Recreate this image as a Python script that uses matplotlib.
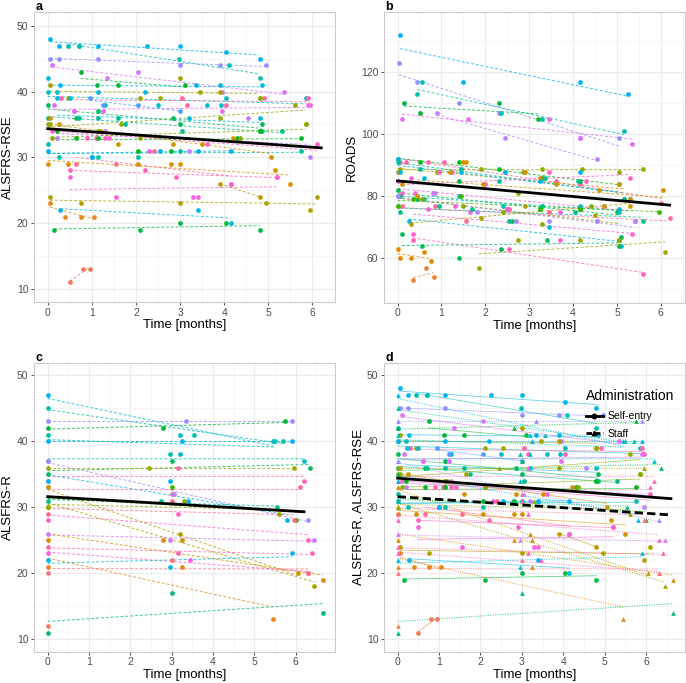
import numpy as np
import matplotlib.pyplot as plt
from matplotlib.lines import Line2D
from matplotlib.ticker import MultipleLocator

plt.rcParams['font.family'] = ['Liberation Sans', 'DejaVu Sans']

# ---- data: panel a (ALSFRS-RSE, self-entry), one row per patient ----
# hue position of each patient in the ggplot hue palette (0..1)
a_hue = [0.58, 0.47, 0.70, 0.78, 0.33, 0.20, 0.56, 0.50, 0.92, 0.55,
         0.36, 0.42, 0.22, 0.10, 0.90, 0.18, 0.57, 0.06, 0.34, 0.02,
         0.88, 0.32, 0.45, 0.60, 0.74, 0.12, 0.24, 0.95, 0.80, 0.85,
         0.15, 0.66]
a_time = [
    [0.05, 0.25, 0.7, 1.15, 2.25, 3.0, 4.05, 4.8],
    [0.45, 0.72, 2.98, 4.1, 4.8],
    [0.05, 0.25, 1.15, 3.0, 3.9, 4.95],
    [0.1, 1.35, 2.05, 3.95, 5.35],
    [0.75, 1.12, 1.6, 3.1],
    [0.05, 0.45, 2.1, 2.55, 3.0, 3.45, 3.9, 4.8],
    [0.0, 0.28, 1.15, 2.2, 3.35, 3.9, 4.85],
    [0.0, 0.2, 1.3, 2.5, 3.6, 3.92, 4.05, 5.85],
    [0.3, 3.05, 3.15, 4.05, 4.9, 5.9, 5.95],
    [0.22, 0.5, 1.0, 3.2, 4.8],
    [0.0, 0.65, 1.15, 2.85, 3.0, 4.8, 4.85],
    [0.0, 0.7, 1.15, 1.6, 1.75, 3.05, 4.85, 5.3],
    [0.0, 0.05, 1.15, 1.65, 3.9, 4.8, 5.6, 5.85],
    [0.0, 0.45, 2.05, 2.8, 3.0, 5.15, 5.5],
    [0.5, 2.2, 2.9, 5.2],
    [0.05, 0.75, 3.0, 4.95, 5.95, 6.1],
    [0.28, 3.4, 4.15],
    [0.05, 0.4, 0.75, 1.05],
    [0.15, 2.1, 3.0, 4.05, 4.8],
    [0.5, 0.8, 0.95],
    [0.1, 0.6, 0.9, 1.1, 1.3, 1.4, 2.3, 3.6, 6.1],
    [0.2, 0.65, 1.15, 2.05, 2.8, 4.3, 4.8, 5.75],
    [0.0, 0.25, 1.15, 2.05, 3.0, 5.75],
    [0.0, 1.0, 2.55, 3.4, 4.15],
    [0.2, 1.3, 3.2, 4.55, 5.95],
    [0.05, 0.25, 1.2, 1.6, 2.85, 3.5, 4.2, 5.05],
    [0.1, 1.15, 2.1, 4.35, 5.85],
    [0.65, 1.55, 2.4, 4.15],
    [0.15, 0.6, 1.25, 3.95, 5.9],
    [0.5, 1.55, 3.3, 3.4, 4.15, 5.2],
    [3.9, 4.8],
    [0.95, 1.25, 2.05, 3.0],
]
a_score = [
    [48, 47, 47, 47, 47, 47, 46, 45],
    [47, 47, 45, 44, 42],
    [45, 45, 45, 44, 44, 44],
    [44, 42, 43, 40, 40],
    [43, 41, 41, 41],
    [41, 39, 39, 39, 42, 40, 40, 39],
    [42, 41, 40, 40, 41, 41, 41],
    [40, 40, 38, 38, 38, 38, 39, 39],
    [39, 39, 38, 38, 39, 39, 38],
    [39, 39, 30, 36, 36],
    [38, 36, 37, 36, 35, 34, 35],
    [36, 36, 36, 36, 35, 34, 34, 34],
    [35, 35, 34, 35, 36, 39, 38, 35],
    [29, 29, 29, 29, 29, 28, 26],
    [28, 28, 27, 27],
    [24, 23, 23, 23, 22, 24],
    [22, 22, 20],
    [23, 21, 21, 21],
    [19, 19, 20, 20, 19],
    [11, 13, 13],
    [34, 37, 33, 33, 33, 33, 31, 32, 32],
    [34, 33, 33, 31, 31, 33, 34, 33],
    [32, 30, 30, 30, 31, 31],
    [31, 30, 31, 31, 31],
    [33, 34, 31, 36, 30],
    [36, 35, 34, 32, 32, 32, 33, 30],
    [33, 34, 33, 33, 35],
    [29, 29, 31, 26],
    [38, 37, 37, 37, 38],
    [27, 24, 24, 24, 26, 27],
    [26, 24],
    [39, 38, 38, 37],
]

# ---- data: panel b (ROADS) ----
b_hue = [0.58, 0.70, 0.46, 0.33, 0.80, 0.74, 0.08, 0.05, 0.90, 0.56,
         0.36, 0.20, 0.93, 0.32, 0.10, 0.22, 0.57, 0.44, 0.88, 0.82,
         0.35, 0.48, 0.12, 0.24, 0.95, 0.72, 0.42, 0.30, 0.86, 0.18]
b_time = [
    [0.05, 1.5, 4.15, 5.25],
    [0.03, 0.45, 1.4, 2.3, 4.15, 5.05],
    [0.45, 0.55, 2.35, 3.3, 5.15],
    [0.15, 0.5, 2.3, 3.2],
    [0.1, 1.6, 3.45, 4.15, 5.35],
    [0.9, 2.45, 4.55],
    [0.0, 0.05, 0.3, 0.6, 0.75],
    [0.35, 0.65, 0.82],
    [0.35, 2.55, 5.6],
    [0.25, 3.45, 5.1],
    [0.1, 0.55, 1.4, 2.35, 3.4, 5.05, 5.1],
    [1.85, 2.75, 4.15, 5.05, 6.1],
    [0.05, 0.2, 0.7, 1.05, 2.45, 3.6, 4.15, 6.0],
    [0.0, 0.5, 1.4, 2.3, 3.3, 4.15, 5.05],
    [0.0, 0.1, 1.5, 1.55, 3.25, 4.6, 5.05, 5.15],
    [0.05, 0.9, 1.9, 2.85, 3.3, 4.2, 5.05, 5.6],
    [0.0, 0.05, 0.6, 1.45, 2.45, 3.25, 4.15, 5.05],
    [0.0, 0.5, 1.45, 2.3, 3.35, 4.1, 5.15],
    [0.1, 0.4, 0.95, 1.25, 2.0, 3.45, 4.3, 5.3],
    [0.0, 0.3, 0.8, 1.65, 2.5, 3.7, 4.7, 5.3],
    [0.0, 0.05, 0.45, 1.4, 2.6, 3.25, 4.15, 5.0],
    [0.0, 0.6, 1.4, 2.4, 3.3, 4.15, 5.05],
    [0.45, 1.2, 1.95, 2.9, 3.6, 4.7, 5.3, 6.05],
    [0.0, 0.55, 1.5, 2.4, 2.75, 3.3, 4.4, 5.05],
    [0.1, 0.85, 1.55, 2.55, 3.45, 4.55, 5.4, 6.2],
    [0.0, 0.85, 1.8, 2.7, 3.45, 4.55, 5.4],
    [0.05, 0.95, 1.7, 2.55, 3.3, 4.05, 5.6],
    [0.0, 0.35, 1.45, 3.25, 4.15, 5.95],
    [0.35, 0.7, 1.3, 2.5, 3.7, 5.35],
    [0.3, 1.9, 2.9, 4.5, 5.3],
]
b_score = [
    [132, 117, 117, 113],
    [123, 117, 110, 107, 99, 99],
    [113, 117, 107, 105, 101],
    [110, 107, 110, 105],
    [105, 105, 105, 99, 97],
    [107, 99, 92],
    [63, 60, 60, 62, 59],
    [53, 57, 54],
    [66, 63, 55],
    [72, 70, 64],
    [68, 64, 60, 63, 66, 64, 67],
    [57, 66, 66, 66, 62],
    [91, 91, 91, 91, 88, 85, 84, 78],
    [92, 91, 91, 89, 86, 85, 84],
    [88, 84, 91, 91, 86, 82, 84, 79],
    [89, 88, 89, 88, 89, 89, 88, 89],
    [92, 88, 86, 88, 88, 85, 88, 76],
    [91, 89, 89, 85, 86, 85, 79],
    [81, 81, 88, 88, 84, 88, 85, 86],
    [85, 86, 81, 75, 76, 75, 77, 79],
    [82, 80, 79, 85, 72, 76, 76, 75],
    [80, 79, 80, 77, 77, 77, 75],
    [80, 88, 84, 88, 84, 77, 77, 82],
    [77, 79, 77, 75, 81, 71, 77, 66],
    [77, 77, 72, 76, 75, 72, 72, 73],
    [80, 81, 75, 72, 72, 72, 72],
    [75, 77, 76, 72, 77, 75, 72],
    [77, 79, 80, 76, 76, 75],
    [68, 76, 77, 76, 66, 68],
    [71, 73, 77, 74, 79],
]

# ---- data: panel c (ALSFRS-R, staff) ----
c_hue = [0.45, 0.56, 0.70, 0.33, 0.60, 0.47, 0.50, 0.36, 0.20, 0.90,
         0.58, 0.94, 0.72, 0.42, 0.22, 0.30, 0.96, 0.88, 0.14, 0.18,
         0.76, 0.08, 0.92, 0.86, 0.55, 0.06, 0.98, 0.38, 0.02]
c_time = [
    [0, 3.55, 5.7], [0, 3.2, 5.45], [0, 3.35, 5.9], [0, 2.8, 5.75],
    [0, 3.25, 5.9], [0, 2.95, 5.5], [0, 3.2, 6.2], [0, 3.0, 6.35],
    [0, 2.45, 5.95], [0, 3.15, 6.2], [0, 2.95, 3.4, 5.8], [0, 3.0, 6.1],
    [0, 3.05, 6.3], [0, 2.75, 5.55], [0, 3.3, 5.6], [0, 3.0, 6.0],
    [0, 3.0, 5.95], [0, 3.15, 6.3], [0, 3.25, 6.05], [0, 3.2, 6.45],
    [0, 2.95, 6.45], [0, 2.8, 6.65], [0, 3.15, 6.4], [0, 3.45, 6.3],
    [0, 2.95, 5.9], [0, 3.25, 5.45], [0, 3.0, 6.3], [0, 3.0, 6.65],
    [0],
]
c_score = [
    [45, 41, 40], [47, 41, 40], [43, 43, 43], [42, 42, 43],
    [40, 40, 40], [41, 38, 40], [37, 38, 37], [35, 37, 36],
    [36, 36, 36], [34, 36, 34], [34, 34, 31, 28], [33, 32, 33],
    [37, 32, 28], [31, 31, 30], [30, 31, 29], [30, 33, 28],
    [29, 31, 28], [28, 29, 25], [33, 25, 20], [30, 26, 18],
    [26, 25, 25], [25, 25, 19], [24, 23, 23], [23, 22, 20],
    [22, 21, 23], [21, 21, 13], [20, 22, 20], [11, 17, 14],
    [12],
]

# population fits (intercept, slope) and the time span they cover
fit_a = (34.35, -0.47, 6.2)
fit_b = (85.0, -1.26, 6.2)
fit_c = (31.6, -0.37, 6.2)
fit_d_self = (34.4, -0.47, 6.6)
fit_d_staff = (31.6, -0.42, 6.6)


def hue_color(frac, c=100, l=65):
    # ggplot2 hue_pal colour (polar LUV -> sRGB)
    h = np.deg2rad(15 + 360 * frac)
    xn, yn, zn = 0.95047, 1.0, 1.08883
    un = 4 * xn / (xn + 15 * yn + 3 * zn)
    vn = 9 * yn / (xn + 15 * yn + 3 * zn)
    Y = yn * ((l + 16) / 116) ** 3
    u = c * np.cos(h) / (13 * l) + un
    v = c * np.sin(h) / (13 * l) + vn
    X = Y * 9 * u / (4 * v)
    Z = Y * (12 - 3 * u - 20 * v) / (4 * v)
    rgb = np.array([3.2404542 * X - 1.5371385 * Y - 0.4985314 * Z,
                    -0.9692660 * X + 1.8760108 * Y + 0.0415560 * Z,
                    0.0556434 * X - 0.2040259 * Y + 1.0572252 * Z])
    rgb = np.where(rgb <= 0.0031308, 12.92 * rgb, 1.055 * np.abs(rgb) ** (1 / 2.4) - 0.055)
    return tuple(np.clip(rgb, 0, 1))


def style_axes(ax, xlim, ylim, ymajor, ylabel, tag):
    ax.set_xlim(*xlim)
    ax.set_ylim(*ylim)
    ax.xaxis.set_major_locator(MultipleLocator(1))
    ax.xaxis.set_minor_locator(MultipleLocator(0.5))
    ax.yaxis.set_major_locator(MultipleLocator(ymajor))
    ax.yaxis.set_minor_locator(MultipleLocator(ymajor / 2))
    ax.grid(which='major', color='#EBEBEB', lw=0.8, zorder=0)
    ax.grid(which='minor', color='#F2F2F2', lw=0.5, zorder=0)
    ax.set_axisbelow(True)
    for s in ax.spines.values():
        s.set_color('#CCCCCC')
        s.set_linewidth(0.8)
    ax.tick_params(which='major', length=2.5, width=0.6, color='#333333',
                   labelsize=7.5, labelcolor='#4D4D4D', pad=1.5)
    ax.tick_params(which='minor', length=0)
    ax.set_xlabel('Time [months]', fontsize=9.5, labelpad=1)
    ax.set_ylabel(ylabel, fontsize=9.5, labelpad=2)
    # panel tag just above the top-left corner of the panel
    ax.annotate(tag, xy=(0, 1), xycoords='axes fraction', xytext=(1, 1.5),
                textcoords='offset points', fontsize=9, fontweight='bold',
                ha='left', va='baseline')


def draw_patients(ax, hues, times, scores, ls, marker, line_lw, alpha):
    for hu, t, y in zip(hues, times, scores):
        col = hue_color(hu)
        t = np.asarray(t, float)
        y = np.asarray(y, float)
        if len(t) > 1:
            k, b = np.polyfit(t, y, 1)
            tt = np.array([t.min(), t.max()])
            ax.plot(tt, b + k * tt, ls=ls, color=col, lw=line_lw, alpha=alpha, zorder=2)
        ax.plot(t, y, ls='none', marker=marker, ms=3.4, color=col, mec='none', zorder=3)


def draw_fit(ax, fit, ls='-'):
    b, k, tmax = fit
    tt = np.array([0, tmax])
    ax.plot(tt, b + k * tt, color='black', lw=2.0, ls=ls, zorder=4)


W, H = 686, 683
fig = plt.figure(figsize=(W / 100, H / 100), dpi=100)


def px_axes(left, top, right, bottom):
    return fig.add_axes([left / W, 1 - bottom / H, (right - left) / W, (bottom - top) / H])


ax_a = px_axes(34, 12, 335, 302)
ax_b = px_axes(384, 12, 685, 302.7)
ax_c = px_axes(34, 362.7, 335, 651.7)
ax_d = px_axes(384, 362.7, 685, 651.7)

# a
draw_patients(ax_a, a_hue, a_time, a_score, (0, (3, 2)), 'o', 0.7, 0.8)
draw_fit(ax_a, fit_a)
style_axes(ax_a, (-0.31, 6.51), (8.0, 52.1), 10, 'ALSFRS-RSE', 'a')

# b
draw_patients(ax_b, b_hue, b_time, b_score, (0, (3, 2)), 'o', 0.7, 0.8)
draw_fit(ax_b, fit_b)
style_axes(ax_b, (-0.31, 6.55), (45.7, 139.5), 20, 'ROADS', 'b')

# c
draw_patients(ax_c, c_hue, c_time, c_score, (0, (3, 2)), 'o', 0.7, 0.8)
draw_fit(ax_c, fit_c)
style_axes(ax_c, (-0.33, 6.95), (8.1, 51.9), 10, 'ALSFRS-R', 'c')

# d: both administrations together
draw_patients(ax_d, a_hue, a_time, a_score, '-', 'o', 0.6, 0.6)
draw_patients(ax_d, c_hue, c_time, c_score, (0, (1, 1.2)), '^', 0.8, 0.7)
draw_fit(ax_d, fit_d_self, '-')
draw_fit(ax_d, fit_d_staff, (0, (3, 1.5)))
style_axes(ax_d, (-0.33, 6.94), (8.1, 51.9), 10, 'ALSFRS-R, ALSFRS-RSE', 'd')

handles = [Line2D([], [], color='black', lw=2, marker='o', ms=3.2, label='Self-entry'),
           Line2D([], [], color='black', lw=2, ls=(0, (2, 1)), marker='^', ms=3.2, label='Staff')]
leg = ax_d.legend(handles=handles, title='Administration', loc='upper left',
                  bbox_to_anchor=(0.64, 0.94), frameon=False, fontsize=7.5,
                  title_fontsize=10, handlelength=1.6, handletextpad=0.5,
                  labelspacing=0.75)
leg._legend_box.align = 'left'

fig.savefig('out.png', dpi=100)
